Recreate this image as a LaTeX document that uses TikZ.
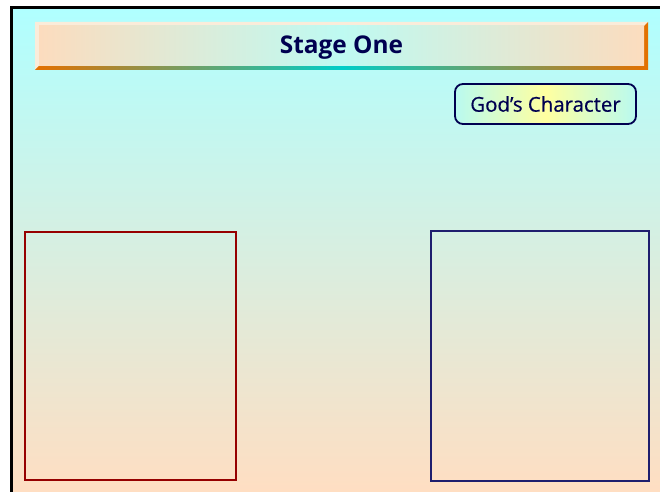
\documentclass[tikz,border=0pt]{standalone}
\usepackage{fontspec}
\setmainfont{Open Sans}
\newfontfamily\medfont[FakeBold=0.6]{Open Sans}
\usetikzlibrary{shapes.misc}
\definecolor{bgtop}{RGB}{176,255,255}
\definecolor{bgbot}{RGB}{255,222,194}
\definecolor{peach}{RGB}{252,220,190}
\definecolor{barmid}{RGB}{190,250,242}
\definecolor{hilite}{RGB}{250,236,218}
\definecolor{shorange}{RGB}{228,112,0}
\definecolor{shteal}{RGB}{0,205,200}
\definecolor{navytext}{RGB}{0,0,80}
\definecolor{boxcyan}{RGB}{185,250,240}
\definecolor{boxyellow}{RGB}{255,255,160}
\definecolor{darkred}{RGB}{150,0,0}
\definecolor{darknavy}{RGB}{30,30,110}
\tikzset{
  emptybox/.style={draw, line width=1.8bp, minimum width=#1, inner sep=0pt},
  labelbox/.style={draw=navytext, line width=1.8bp, rounded corners=8bp,
     left color=boxcyan, right color=boxcyan, middle color=boxyellow,
     text=navytext, font=\fontsize{20.5}{24}\selectfont\medfont,
     minimum width=181bp, minimum height=40bp, inner sep=0pt},
  titletext/.style={text=navytext, font=\fontsize{24.5}{28}\selectfont\bfseries}
}
\begin{document}
\begin{tikzpicture}[x=1bp,y=-1bp]
\useasboundingbox (0,0) rectangle (660,492);
\fill[white] (0,0) rectangle (660,492);
% background
\shade[top color=bgtop, bottom color=bgbot] (13,9) rectangle (660,492);
% frame
\fill[black] (10,6) rectangle (660,9);
\fill[black] (10,6) rectangle (13,492);
% title bar bevel
\fill[hilite] (35,22) -- (648,22) -- (644,26) -- (39,26) -- (39,66) -- (35,70) -- cycle;
\shade[left color=shorange, right color=shorange, middle color=shteal]
  (648,22) -- (648,70) -- (35,70) -- (39,66) -- (644,66) -- (644,26) -- cycle;
\shade[left color=peach, right color=peach, middle color=barmid] (39,26) rectangle (644,66);
\node[titletext] (title) at (341.5,47.5) {Stage One};
% label box
\node[labelbox] (god) at (545.5,104) {God’s Character};
% empty boxes
\node[emptybox=211bp, draw=darkred, minimum height=248bp] (left) at (130.5,356) {};
\node[emptybox=218bp, draw=darknavy, line width=1.5bp, minimum height=250bp] (right) at (540,356) {};
\end{tikzpicture}
\end{document}
